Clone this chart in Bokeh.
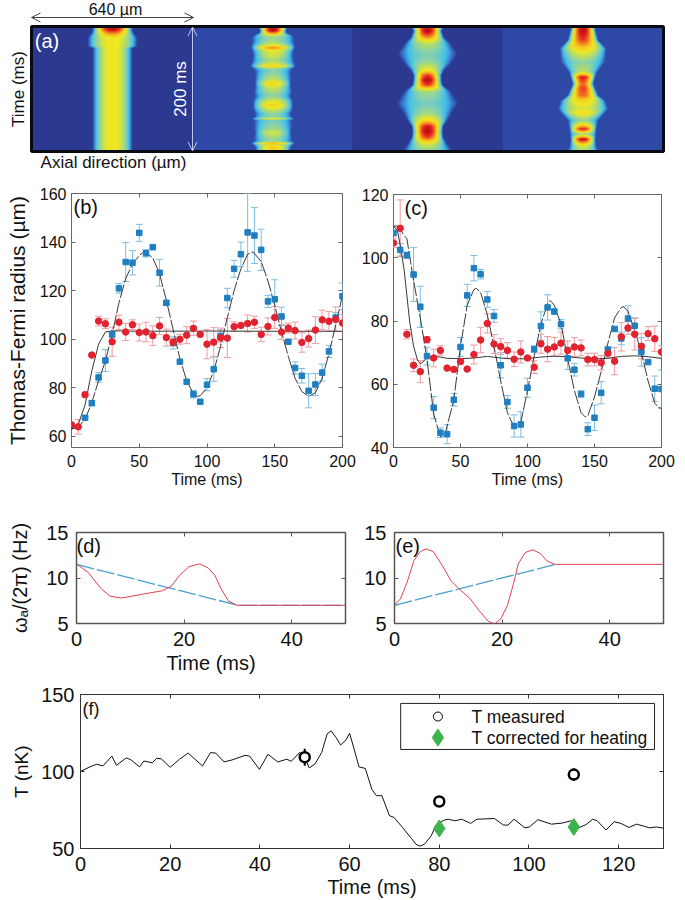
import numpy as np
from bokeh.embed import file_html
from bokeh.resources import INLINE
from bokeh.plotting import figure
from bokeh.layouts import column, row
from bokeh.core.properties import value
from bokeh.models import (Range1d, LinearAxis, FixedTicker, Label, Arrow, OpenHead,
                          LinearColorMapper)

FONT = "Liberation Sans"

# ---------- panel (b) ----------
b_t = list(range(0, 205, 5))
b_blue_t = list(range(10, 205, 5))
b_blue = [67.7, 73.7, 84.3, 91.3, 102, 121, 131.8, 131.5, 143.8, 135.4, 137.9, 127.4, 115, 98.5, 90.8, 82.5,
          77.4, 74.3, 81.3, 87.7, 101.4, 117, 129, 135, 144, 142.7, 136.8, 115.6, 116.5, 109.4, 99, 88.2,
          85, 78.8, 81.4, 86.3, 95, 109, 117.7]
b_blue_err = [0.5, 1, 2, 4.5, 1, 2, 8, 5, 3.5, 1.5, 0.5, 5.5, 1, 2.5, 0.5, 0.5, 1.5, 0.5, 2.5, 5, 2.5, 4, 3.5, 5,
              16, 11.5, 8.5, 2.5, 8, 3.8, 0.5, 2.5, 3, 7, 4.5, 3.5, 2.5, 2, 5.5]
b_red = [64.8, 64, 77.2, 93.5, 107.5, 106.4, 99, 107, 103, 106, 102.8, 103, 101.5, 105.5, 100.7, 98.8, 100, 101.7,
         104.5, 102, 98, 98.8, 100.6, 100.5, 105.2, 105.7, 106.5, 107, 102, 105.3, 109, 103, 104.6, 103.6, 98.7,
         100.3, 103.8, 108, 107.4, 108.3, 106.7]
b_red_err = [0.5, 3, 1, 0.5, 2, 2, 6, 3, 3.5, 2, 3.5, 4, 4, 3.5, 3.5, 1.5, 2, 3.5, 3, 0.5, 6, 6, 4, 8, 2, 0.5, 3.5,
             2.5, 3, 3.5, 4.5, 3, 2, 3.5, 4, 3.5, 5.5, 4, 4, 5, 3.5]
b_fit_t = [0, 5, 10, 15, 20, 25, 30, 35, 40, 45, 50, 53, 55, 60, 65, 70, 75, 80, 85, 90, 93, 95, 100, 105, 110, 115,
           120, 125, 130, 134, 140, 145, 150, 155, 160, 165, 170, 175, 180, 185, 190, 195, 200]
b_fit_dash = [63, 64, 67, 74, 83, 91, 102, 115, 125, 131, 134.5, 135.8, 135.6, 133.5, 127, 116, 104, 92, 83, 77.5,
              76.5, 76.8, 80, 87, 97, 109, 120, 129, 135, 136, 132, 124, 114, 103, 93, 84, 78.5, 76.5, 78, 84, 94,
              106, 118]
b_sol_t = [0, 5, 10, 15, 20, 25, 30, 50, 100, 150, 200]
b_fit_sol = [63, 65, 73, 87, 98, 103, 103.5, 103.3, 103.4, 103.3, 103.3]

# ---------- panel (c) ----------
c_t = list(range(0, 205, 5))
c_blue = [107.8, 102.5, 100.8, 94.7, 84.5, 68.9, 52.6, 44.7, 44.2, 55.1, 71.8, 88.1, 96.7, 94.8, 86.8, 81.6, 66, 54.4,
          46.8, 47.3, 58.9, 71.1, 78.4, 84.3, 83, 79, 68.2, 64.6, 56.9, 45.8, 49.4, 57.3, 70.9, 77.5, 74.5, 80.8,
          78.5, 70.2, 67, 58.6, 58.5]
c_blue_err = [0.5, 2, 1, 8.5, 6.5, 2.8, 3.5, 1.5, 3, 2, 3, 3.5, 4, 1.5, 2.5, 2, 4, 2, 3.5, 4, 3, 1, 4.5, 4, 0.5, 1.5,
              3.5, 2, 1, 2, 4, 3.5, 1, 0.5, 2, 4, 2.5, 4.5, 0.3, 4, 6]
c_red = [104.7, 109.3, 75.8, 66, 64, 74.1, 68.3, 70.7, 65.1, 64.7, 67.2, 64.8, 69.4, 74, 79.2, 72.7, 71.9, 70.7, 67.9,
         70.2, 68.3, 65.4, 72.8, 71.1, 71.8, 73, 70.7, 71.8, 71.5, 67.8, 67.8, 66.8, 69.8, 67.3, 75, 77.8, 75.8, 72,
         76, 74.4, 70.2]
c_red_err = [1.5, 9, 1.5, 2, 3.5, 1, 2.8, 1.5, 0.3, 0.5, 0.8, 0.3, 3, 4, 3, 3, 2.5, 2.5, 2.3, 3.5, 0.5, 2, 3, 4, 3,
             3.5, 3, 3, 2.5, 2, 2, 2.3, 1.5, 4.3, 4.5, 2, 5, 4, 2.2, 4, 2]
c_fit_t = [0, 3, 5, 8, 10, 15, 20, 25, 30, 35, 38, 45, 50, 55, 60, 62, 65, 70, 75, 80, 85, 90, 93, 95, 100, 105, 110,
           115, 117, 120, 125, 130, 135, 140, 143, 145, 150, 155, 160, 165, 170, 172, 175, 180, 185, 190, 195, 198, 200]
c_fit_dash = [110, 110, 109, 107, 106, 92.8, 81, 68, 50.5, 43.4, 43.5, 55, 72, 85, 90, 90.3, 89, 82, 72, 61, 51, 46.5,
              46.7, 48, 58, 69, 79, 85.5, 86.5, 85, 79, 68, 58, 51, 49.7, 50, 56, 64, 73, 81, 84.3, 84.5, 83, 77, 70,
              61, 54, 52.5, 52.5]
c_sol_t = [0, 3, 5, 8, 10, 12, 15, 18, 20, 22, 25, 30, 35, 40, 50, 60, 70, 80, 90, 100, 110, 120, 130, 140, 150, 160,
           170, 180, 190, 200]
c_fit_sol = [110, 108.5, 104, 96, 88, 80, 72, 67.5, 66.5, 67, 68.5, 68.8, 68.6, 68.2, 68.1, 68.3, 68.8, 68.3, 68, 68.1,
             68.6, 68.9, 68.7, 68.3, 68, 68.2, 68.8, 69, 68.7, 68.2]

# ---------- panels (d), (e) ----------
d_t = [0, 2.2, 4.6, 6.25, 8.3, 10.3, 13.5, 16, 17.6, 19.2, 20.9, 22.9, 24.5, 25.7, 26.9, 28.2, 29.8, 30, 50]
d_red = [11.55, 10.6, 8.8, 8, 7.8, 8, 8.35, 8.6, 9.1, 10.3, 11.25, 11.55, 11.1, 10.3, 8.8, 7.5, 7, 7, 7]
d_lin_t = [0, 30, 50]
d_lin = [11.5, 7, 7]
e_t = [0, 1.1, 2.35, 3.6, 4.8, 5.85, 7.2, 8.85, 10.5, 12.1, 14.1, 15.7, 17.4, 18.6, 19.8, 21, 22.2, 23, 24.3, 25.7,
       27.1, 28.3, 29.5, 30, 50]
e_red = [7, 7.7, 9.55, 11.9, 12.9, 13.2, 12.9, 11.4, 9.7, 8.75, 7.7, 6.45, 5.25, 4.95, 5.55, 7, 9.55, 11.55, 12.8,
         13.1, 12.7, 11.9, 11.55, 11.5, 11.5]
e_lin_t = [0, 30]
e_lin = [7, 11.5]

# ---------- panel (f) ----------
f_t = [0, 2.1, 3.6, 5, 7, 8, 10.2, 11.2, 13.2, 14.1, 16, 17, 18, 20, 22.1, 24, 27.2, 29, 30.2, 32, 33.8, 36.7, 37.7,
       39.9, 41.8, 44, 46, 47, 48.9, 50, 51, 52.3, 53.8, 55, 55.9, 57, 58, 59.2, 60, 60.9, 62.1, 63.5, 65, 66, 67.2,
       68.9, 69.9, 71.8, 73.8, 74.8, 75.7, 76.7, 78.2, 79.3, 81.1, 82, 83.5, 85, 87, 88.4, 92.3, 94.3, 95.3, 96.7,
       99.1, 100.1, 102, 105, 107.4, 109.4, 111.3, 112.7, 114.2, 115.2, 117.2, 119, 120.5, 122.3, 124, 125.4, 126.9,
       128.4, 130]
f_T = [100, 103, 104.7, 103.6, 110, 104, 108.8, 107.7, 103, 106.8, 105.7, 108.6, 108.2, 102.7, 108, 112, 103.6, 112.3,
       111.9, 106.2, 107.5, 110.5, 110, 101.4, 111.2, 106.2, 108, 106.6, 112.5, 109.2, 102.3, 104.9, 112.5, 124.4,
       126.4, 122, 117.2, 120.5, 124.8, 115.7, 103, 102, 88.2, 84.3, 84.3, 71.3, 70.2, 63.7, 56.5, 52.8, 51.5, 52.8,
       58.2, 65.4, 68.4, 69, 68, 69, 66.3, 69, 69.5, 65.2, 65.2, 69, 63.4, 64, 68.7, 65.8, 66.5, 68, 63.7, 65.5, 69,
       68, 62, 67.4, 66.3, 63.7, 65.8, 64.7, 63.4, 64, 63.2]
meas_t = [50, 80, 110]
meas_T = [109.3, 80.5, 98]
meas_err = [5.5, 1.5, 4]
corr_t = [80, 110]
corr_T = [63, 64]
corr_err = [2, 2.5]
legend_labels = ["T measured", "T corrected for heating"]

# ---------- panel (a): radius (pixels of 4 um) and peak level along time ----------
a_widths = [648, 636, 600, 644]
a_base = [0.0, 0.07, 0.0, 0.07]
p1_t = [0, 5, 10, 16, 18, 32, 34, 200]
p1_R = [20, 20, 21, 24, 25, 25, 20, 20]
p1_A = [1, 0.98, 0.85, 0.7, 0.66, 0.66, 0.66, 0.66]
p2_t = [0, 3, 7, 11, 14, 17, 25, 31, 34, 38, 45, 55, 61, 64, 67, 72, 85, 91, 97, 105, 112, 120, 126, 132, 140, 146,
        148, 150, 155, 165, 171, 178, 184, 186, 188, 190, 193, 200]
p2_R = [14, 14, 13, 14, 19, 21, 21, 22, 22, 21, 20, 21, 22, 23, 20, 18, 18, 18, 18, 19, 18, 20, 20, 20, 18, 19, 22, 19,
        19, 19, 18, 19, 19, 21, 22, 20, 18, 17]
p2_A = [0.85, 1, 1, 0.8, 0.6, 0.48, 0.5, 0.65, 0.85, 0.65, 0.6, 0.5, 0.62, 0.75, 0.5, 0.42, 0.55, 0.72, 0.6, 0.5, 0.45,
        0.62, 0.72, 0.62, 0.45, 0.45, 0.75, 0.42, 0.42, 0.5, 0.6, 0.5, 0.45, 0.6, 0.85, 0.6, 0.72, 0.7]
p3_t = [0, 8, 18, 27, 43, 55, 70, 78, 86, 94, 105, 124, 140, 151, 160, 169, 178, 189, 200]
p3_R = [16, 14, 17, 23, 30, 26, 17, 14, 14, 15, 24, 31, 24, 20, 16, 15, 16, 20, 25]
p3_A = [0.95, 1, 0.8, 0.55, 0.42, 0.45, 0.65, 0.9, 1, 0.9, 0.5, 0.4, 0.5, 0.7, 0.95, 1, 0.9, 0.6, 0.45]
p4_t = [0, 5, 22, 35, 40, 57, 73, 81, 92, 100, 111, 119, 132, 138, 151, 165, 173, 181, 192, 200]
p4_R = [12, 12, 15, 23, 23, 22, 14, 12, 10, 12, 15, 22, 25, 22, 15, 13, 13, 12, 13, 15]
p4_A = [0.9, 1, 0.9, 0.72, 0.65, 0.45, 0.55, 0.95, 0.85, 0.9, 0.85, 0.7, 0.6, 0.7, 0.45, 0.95, 0.5, 1, 0.6, 0.5]
a_profiles = [(p1_t, p1_R, p1_A), (p2_t, p2_R, p2_A), (p3_t, p3_R, p3_A), (p4_t, p4_R, p4_A)]

# ---------- colours ----------
BLUE, BLUE_E = "#1f7fc0", "#7cbde0"
RED, RED_E = "#e2222e", "#f09aa2"
stops = [0, 0.1, 0.2, 0.3, 0.42, 0.52, 0.65, 0.75, 0.85, 0.93, 1]
cols = [(43, 57, 144), (48, 80, 176), (58, 128, 208), (64, 192, 236), (128, 208, 184), (176, 220, 112),
        (240, 232, 32), (248, 192, 32), (240, 112, 32), (232, 32, 32), (176, 16, 16)]
lv = np.linspace(0, 1, 256)
jet = ["#%02x%02x%02x" % tuple(int(np.interp(v, stops, [c[i] for c in cols])) for i in range(3)) for v in lv]


def axis_style(ax, size, stand):
    ax.major_label_text_font = FONT
    ax.major_label_text_font_size = size
    ax.major_label_text_color = "#111111"
    ax.major_label_standoff = stand
    ax.major_tick_in = 4
    ax.major_tick_out = 0
    ax.minor_tick_line_color = None
    ax.axis_line_color = None
    ax.axis_label_text_font = FONT
    ax.axis_label_text_font_style = "normal"
    ax.axis_label_text_color = "#111111"


def make_fig(w, h, l, r, t, b, xr, yr, xticks, yticks, tick_size, stand, outline, lw):
    p = figure(width=w, height=h, x_range=Range1d(*xr), y_range=Range1d(*yr), toolbar_location=None,
               output_backend="svg", min_border_left=l, min_border_right=r, min_border_top=t, min_border_bottom=b,
               frame_align=False)
    p.grid.visible = False
    p.outline_line_color = outline
    p.outline_line_width = lw
    p.background_fill_color = "white"
    p.border_fill_color = "white"
    p.below[0].ticker = FixedTicker(ticks=xticks)
    p.left[0].ticker = FixedTicker(ticks=yticks)
    for ax in (p.below[0], p.left[0]):
        axis_style(ax, tick_size, stand)
        ax.major_tick_line_color = outline
    p.left[0].major_label_standoff = stand - 2
    top = LinearAxis(ticker=FixedTicker(ticks=xticks), major_label_overrides={v: "" for v in xticks})
    rgt = LinearAxis(ticker=FixedTicker(ticks=yticks), major_label_overrides={v: "" for v in yticks})
    for ax in (top, rgt):
        axis_style(ax, "1px", 0)
        ax.major_tick_line_color = outline
    p.add_layout(top, "above")
    p.add_layout(rgt, "right")
    return p


def tag(p, text, x, y, size, color="#111111"):
    p.add_layout(Label(x=x, y=y, x_units="screen", y_units="screen", text=text, text_font=FONT, text_font_size=size,
                       text_color=color, text_align="left", text_baseline="middle"))


def bars(p, x, y, err, color, wcap):
    x, y, err = np.array(x, float), np.array(y, float), np.array(err, float)
    p.segment(x, y - err, x, y + err, line_color=color, line_width=1)
    p.dash(x, y - err, size=wcap, line_color=color, line_width=1)
    p.dash(x, y + err, size=wcap, line_color=color, line_width=1)


# ---------- (a) ----------
H_A = 175
pa = figure(width=685, height=H_A, x_range=Range1d(-124, 2616), y_range=Range1d(-38.4, 241.6),
            toolbar_location=None, output_backend="svg", min_border=0, frame_align=False)
pa.axis.visible = False
pa.grid.visible = False
pa.outline_line_color = None
pa.quad(left=0, right=2528, bottom=0, top=200, fill_color=jet[0], line_color=None)
mapper = LinearColorMapper(palette=jet, low=0, high=1)
rows_t = np.linspace(200, 0, 250)
x0 = 0
for w_um, base, (nt, nR, nA) in zip(a_widths, a_base, a_profiles):
    xs = np.linspace(-w_um / 2, w_um / 2, 320)
    R = np.interp(rows_t, nt, nR) * 4.0
    A = np.interp(rows_t, nt, nA)
    u = np.clip(1 - (xs[None, :] / R[:, None]) ** 2, 0, 1) ** 0.7
    img = base + (A[:, None] - base) * u
    pa.image(image=[img], x=x0, y=0, dw=w_um, dh=200, color_mapper=mapper)
    x0 += w_um
pa.quad(left=0, right=2528, bottom=0, top=200, fill_color=None, line_color="#0a0a14", line_width=3)
pa.add_layout(Arrow(start=OpenHead(size=9, line_color="#444444", line_width=1),
                    end=OpenHead(size=9, line_color="#444444", line_width=1),
                    x_start=0, x_end=648, y_start=214.4, y_end=214.4, line_color="#444444", line_width=1))
pa.add_layout(Arrow(start=OpenHead(size=9, line_color="#c4c8ec", line_width=1),
                    end=OpenHead(size=9, line_color="#c4c8ec", line_width=1),
                    x_start=644, x_end=644, y_start=1, y_end=199, line_color="#c4c8ec", line_width=1))
for txt, x, y, sz, col, ang in [("640 µm", 336, 228, "16px", "#111111", 0),
                                ("200 ms", 596, 100, "17px", "#ffffff", np.pi / 2),
                                ("(a)", 62, 177, "20px", "#ffffff", 0),
                                ("Time (ms)", -52, 100, "17px", "#111111", np.pi / 2),
                                ("Axial direction (µm)", 328, -17, "17px", "#111111", 0)]:
    pa.text(x=[x], y=[y], text=[txt], text_font=value(FONT), text_font_size=value(sz), text_color=col,
            text_align="center", text_baseline="middle", angle=ang)

# ---------- (b) ----------
pb = make_fig(358, 320, 71, 16, 18, 48, (0, 200), (55.47, 160), [0, 50, 100, 150, 200], [60, 80, 100, 120, 140, 160],
              "16px", 7, "#666666", 1)
pb.below[0].axis_label = "Time (ms)"
pb.below[0].axis_label_text_font_size = "16px"
pb.below[0].axis_label_standoff = 1
pb.left[0].axis_label = "Thomas-Fermi radius (µm)"
pb.left[0].axis_label_text_font_size = "21px"
pb.left[0].axis_label_standoff = 8
bars(pb, b_blue_t, b_blue, b_blue_err, BLUE_E, 7)
bars(pb, b_t, b_red, b_red_err, RED_E, 7)
pb.line(b_fit_t, b_fit_dash, line_color="#222222", line_width=0.9, line_dash="14 2")
pb.line(b_sol_t, b_fit_sol, line_color="#222222", line_width=0.9)
pb.scatter(b_blue_t, b_blue, marker="square", size=5.5, fill_color=BLUE, line_color=BLUE)
pb.scatter(b_t, b_red, marker="circle", size=6.5, fill_color=RED, line_color=RED)
tag(pb, "(b)", 2, 241, "20px")

# ---------- (c) ----------
pc = make_fig(327, 320, 34, 24, 19, 48, (0, 200), (40, 120), [0, 50, 100, 150, 200], [40, 60, 80, 100, 120],
              "16px", 7, "#666666", 1)
pc.below[0].axis_label = "Time (ms)"
pc.below[0].axis_label_text_font_size = "16px"
pc.below[0].axis_label_standoff = 1
bars(pc, c_t, c_blue, c_blue_err, BLUE_E, 7)
bars(pc, c_t, c_red, c_red_err, RED_E, 7)
pc.line(c_fit_t, c_fit_dash, line_color="#222222", line_width=0.9, line_dash="14 2")
pc.line(c_sol_t, c_fit_sol, line_color="#222222", line_width=0.9)
pc.scatter(c_t, c_blue, marker="square", size=5.5, fill_color=BLUE, line_color=BLUE)
pc.scatter(c_t, c_red, marker="circle", size=6.5, fill_color=RED, line_color=RED)
tag(pc, "(c)", 11, 240, "20px")

# ---------- (d), (e) ----------
pd = make_fig(360, 190, 76, 15, 37, 62, (0, 50), (5, 15), [0, 20, 40], [5, 10, 15], "20px", 8, "#555555", 1.5)
pd.below[0].axis_label = "Time (ms)"
pd.below[0].axis_label_text_font_size = "20px"
pd.below[0].axis_label_standoff = 3
pd.left[0].major_label_standoff = 8
pd.left[0].axis_label = "ωₐ/(2π) (Hz)"
pd.left[0].axis_label_text_font_size = "20px"
pd.left[0].axis_label_standoff = 12
pd.line(d_lin_t, d_lin, line_color="#4a9fd2", line_width=1.3, line_dash="18 3")
pd.line(d_t, d_red, line_color="#e2404e", line_width=1)
tag(pd, "(d)", 0, 78, "20px")

pe = make_fig(325, 190, 34, 22, 37, 62, (0, 50), (5, 15), [0, 20, 40], [5, 10, 15], "20px", 8, "#555555", 1.5)
pe.left[0].major_label_standoff = 8
pe.line(e_lin_t, e_lin, line_color="#4a9fd2", line_width=1.3, line_dash="18 3")
pe.line(e_t, e_red, line_color="#e2404e", line_width=1)
tag(pe, "(e)", 1, 78, "20px")

# ---------- (f) ----------
pf = make_fig(685, 215, 80, 22, 9, 52, (0, 130), (50, 150), list(range(0, 140, 20)), [50, 100, 150], "20px", 8,
              "#333333", 1)
pf.below[0].axis_label = "Time (ms)"
pf.below[0].axis_label_text_font_size = "20px"
pf.below[0].axis_label_standoff = 2
pf.left[0].axis_label = "T (nK)"
pf.left[0].axis_label_text_font_size = "19px"
pf.left[0].axis_label_standoff = 6
pf.line(f_t, f_T, line_color="#111111", line_width=1)
mt, mT, me = np.array(meas_t, float), np.array(meas_T, float), np.array(meas_err, float)
pf.segment(mt, mT - me, mt, mT + me, line_color="black", line_width=2)
pf.segment(corr_t, np.array(corr_T) - np.array(corr_err), corr_t, np.array(corr_T) + np.array(corr_err),
           line_color="#3cb44b", line_width=2)
pf.scatter(meas_t, meas_T, marker="circle", size=10, fill_color="white", line_color="black", line_width=2.5)
pf.scatter(corr_t, corr_T, marker="diamond", size=17, fill_color="#3cb44b", line_color="#3cb44b")
# legend box of panel (f)
pf.quad(left=71.4, right=128, bottom=114.3, top=144.2, fill_color="white", line_color="#222222", line_width=1)
pf.scatter([79.7], [135.7], marker="circle", size=9, fill_color=None, line_color="black", line_width=1)
pf.scatter([79.7], [122], marker="diamond", size=17, fill_color="#3cb44b", line_color="#3cb44b")
pf.text(x=[87.2, 87.2], y=[135.7, 122], text=legend_labels, text_font=value(FONT), text_font_size=value("17.5px"),
        text_color="#111111", text_align="left", text_baseline="middle")
tag(pf, "(f)", 2, 140, "18px")

root = column(pa, row(pb, pc, spacing=0), row(pd, pe, spacing=0), pf, spacing=0)
open("out.html", "w").write(file_html(root, INLINE))
